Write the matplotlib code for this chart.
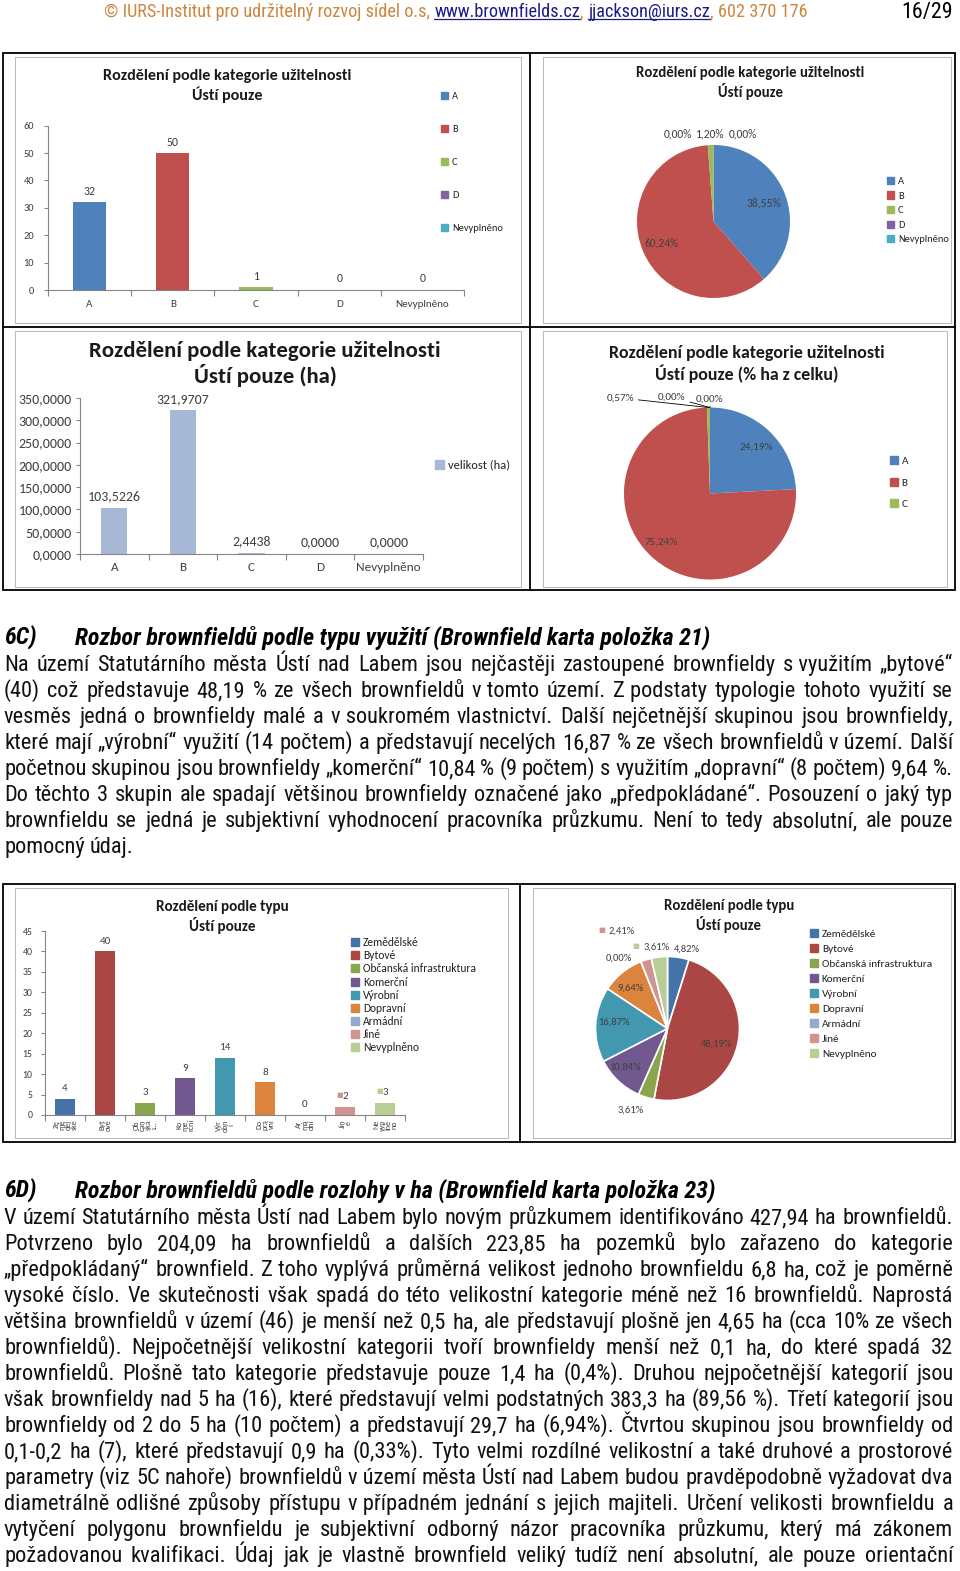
import matplotlib
matplotlib.use('Agg')
import matplotlib.pyplot as plt
from matplotlib import font_manager
from matplotlib.patches import Rectangle, Patch
from matplotlib.ticker import FuncFormatter
import numpy as np

W, H = 960, 1571

# ---------------- data ----------------
util_cats = ['A', 'B', 'C', 'D', 'Nevyplněno']
util_counts = [32, 50, 1, 0, 0]
util_ha = [103.5226, 321.9707, 2.4438, 0.0, 0.0]
util_colors = ['#4f81bd', '#c0504d', '#9bbb59', '#8064a2', '#4bacc6']

type_cats = ['Zemědělské', 'Bytové', 'Občanská infrastruktura', 'Komerční', 'Výrobní',
             'Dopravní', 'Armádní', 'Jiné', 'Nevyplněno']
type_ticks = ['Ze\nmě\nděl\nské', 'Byt\nové', 'Ob\nčan\nská\ni…', 'Ko\nme\nrční', 'Výr\nobn\ní',
              'Do\npra\nvní', 'Ar\nmá\ndní', 'Jin\né', 'Ne\nvyp\nlně\nno']
type_counts = [4, 40, 3, 9, 14, 8, 0, 2, 3]
type_colors = ['#4572a7', '#aa4643', '#89a54e', '#71588f', '#4198af',
               '#db843d', '#93a9cf', '#d19392', '#b9cd96']

header_parts = [('© IURS-Institut pro udržitelný rozvoj sídel o.s,', 'o', True),
                ('www.brownfields.cz', 'l', False), (',', 'o', True),
                ('jjackson@iurs.cz', 'l', False), (',', 'o', True),
                ('602 370 176', 'o', False)]
page_no = '16/29'

head_6c = ('6C)', 'Rozbor brownfieldů podle typu využití (Brownfield karta položka 21)')
text_6c = [
    'Na území Statutárního města Ústí nad Labem jsou nejčastěji zastoupené brownfieldy s\u00a0využitím „bytové“',
    '(40) což představuje 48,19 % ze všech brownfieldů v\u00a0tomto území. Z\u00a0podstaty typologie tohoto využití se',
    'vesměs jedná o brownfieldy malé a v\u00a0soukromém vlastnictví. Další nejčetnější skupinou jsou brownfieldy,',
    'které mají „výrobní“ využití (14 počtem) a představují necelých 16,87 % ze všech brownfieldů v\u00a0území. Další',
    'početnou skupinou jsou brownfieldy „komerční“ 10,84 % (9 počtem) s využitím „dopravní“ (8 počtem) 9,64 %.',
    'Do těchto 3 skupin ale spadají většinou brownfieldy označené jako „předpokládané“. Posouzení o jaký typ',
    'brownfieldu se jedná je subjektivní vyhodnocení pracovníka průzkumu. Není to tedy absolutní, ale pouze',
    'pomocný údaj.',
]
head_6d = ('6D)', 'Rozbor brownfieldů podle rozlohy v ha (Brownfield karta položka 23)')
text_6d = [
    'V území Statutárního města Ústí nad Labem bylo novým průzkumem identifikováno 427,94 ha brownfieldů.',
    'Potvrzeno bylo 204,09 ha brownfieldů a dalších 223,85 ha pozemků bylo zařazeno do kategorie',
    '„předpokládaný“ brownfield. Z\u00a0toho vyplývá průměrná velikost jednoho brownfieldu 6,8 ha, což je poměrně',
    'vysoké číslo. Ve skutečnosti však spadá do této velikostní kategorie méně než 16 brownfieldů. Naprostá',
    'většina brownfieldů v území (46) je menší než 0,5 ha, ale představují plošně jen 4,65 ha (cca 10% ze všech',
    'brownfieldů). Nejpočetnější velikostní kategorii tvoří brownfieldy menší než 0,1 ha, do které spadá 32',
    'brownfieldů. Plošně tato kategorie představuje pouze 1,4 ha (0,4%). Druhou nejpočetnější kategorií jsou',
    'však brownfieldy nad 5 ha (16), které představují velmi podstatných 383,3 ha (89,56 %). Třetí kategorií jsou',
    'brownfieldy od 2 do 5 ha (10 počtem) a představují 29,7 ha (6,94%). Čtvrtou skupinou jsou brownfieldy od',
    '0,1-0,2 ha (7), které představují 0,9 ha (0,33%). Tyto velmi rozdílné velikostní a také druhové a prostorové',
    'parametry (viz 5C nahoře) brownfieldů v\u00a0území města Ústí nad Labem budou pravděpodobně vyžadovat dva',
    'diametrálně odlišné způsoby přístupu v\u00a0případném jednání s jejich majiteli. Určení velikosti brownfieldu a',
    'vytyčení polygonu brownfieldu je subjektivní odborný názor pracovníka průzkumu, který má zákonem',
    'požadovanou kvalifikaci. Údaj jak je vlastně brownfield veliký tudíž není absolutní, ale pouze orientační',
]

# ---------------- fonts ----------------
names = {f.name for f in font_manager.fontManager.ttflist}
def pick(*cands):
    return next((n for n in cands if n in names), 'DejaVu Sans')
narrow = sorted(n for n in names if ('Narrow' in n or 'Condensed' in n) and 'Mono' not in n)
BODY = pick('Liberation Sans Narrow', 'Roboto Condensed', 'DejaVu Sans Condensed',
            *narrow, 'Liberation Sans')
CHART = pick('Carlito', 'Lato', 'Open Sans')
plt.rcParams['font.family'] = [CHART, 'DejaVu Sans']

ORANGE = '#cd853f'
LINK = '#1c1c85'
DARK = '#404040'
AXIS = '#868686'

fig = plt.figure(figsize=(W / 100, H / 100), dpi=100)
fig.patch.set_facecolor('white')
bg = fig.add_axes([0, 0, 1, 1])
bg.set_xlim(0, W)
bg.set_ylim(H, 0)
bg.axis('off')
R = fig.canvas.get_renderer()


def width(t):
    return t.get_window_extent(R).width


def fit(s, target, **kw):
    t = bg.text(0, 0, s, fontsize=10, **kw)
    w = width(t)
    t.remove()
    return 10 * target / w


def space_width(fs, family):
    t1 = bg.text(0, 0, 'a a', fontsize=fs, family=family)
    t2 = bg.text(0, 0, 'aa', fontsize=fs, family=family)
    w = width(t1) - width(t2)
    t1.remove()
    t2.remove()
    return w


def px_axes(x0, y0, x1, y1):
    return fig.add_axes([x0 / W, 1 - y1 / H, (x1 - x0) / W, (y1 - y0) / H])


# ---------------- page text ----------------
hs = fit(' '.join(p[0] for p in header_parts).replace(' ,', ','), 702, family=BODY)
space_h = space_width(hs, BODY)
x = 104
for s, c, gap in header_parts:
    t = bg.text(x, 17, s, fontsize=hs, family=BODY, color=ORANGE if c == 'o' else LINK,
                va='baseline')
    w = width(t)
    if c == 'l':
        bg.plot([x, x + w], [19, 19], color=LINK, lw=0.9)
    x += w + (space_h if gap else 0)
ps = fit(page_no, 51, family=BODY)
bg.text(953, 18, page_no, fontsize=ps, family=BODY, ha='right', va='baseline', color='black')

body_fs = fit(text_6c[4].replace('\u00a0', ' '), 949, family=BODY)
space_b = space_width(body_fs, BODY)


def put_line(line, y, justify=True, x0=4, x1=953):
    words = line.split(' ')
    ts = [bg.text(0, y, w, fontsize=body_fs, family=BODY, va='baseline', color='#111111')
          for w in words]
    ws = [width(t) for t in ts]
    gap = (x1 - x0 - sum(ws)) / (len(ts) - 1) if (justify and len(ts) > 1) else space_b
    x = x0
    for t, w in zip(ts, ws):
        t.set_x(x)
        x += w + gap


head_fs = fit(head_6c[1], 635, family=BODY, fontweight='bold', style='italic')


def paragraph(head, lines, y_head, last_justified):
    bg.text(4, y_head + 8, head[0], fontsize=head_fs, family=BODY, fontweight='bold',
            style='italic', va='baseline')
    bg.text(75, y_head + 8, head[1], fontsize=head_fs, family=BODY, fontweight='bold',
            style='italic', va='baseline')
    for i, line in enumerate(lines):
        last = i == len(lines) - 1
        put_line(line, y_head + 26 * (i + 1) + 8, justify=(not last) or last_justified)


paragraph(head_6c, text_6c, 637, False)
paragraph(head_6d, text_6d, 1190, True)


# ---------------- table frames ----------------
def box(x0, y0, x1, y1, color, lw):
    bg.add_patch(Rectangle((x0, y0), x1 - x0, y1 - y0, fill=False, edgecolor=color, lw=lw))


box(3, 53, 955, 590, 'black', 1.3)
bg.plot([530, 530], [53, 590], color='black', lw=1.3)
bg.plot([3, 955], [327, 327], color='black', lw=1.3)
box(15, 57, 521, 323, '#b8b8b8', 0.7)
box(543, 57, 951, 323, '#b8b8b8', 0.7)
box(15, 331, 521, 587, '#b8b8b8', 0.7)
box(543, 331, 947, 587, '#b8b8b8', 0.7)
box(3, 884, 955, 1142, 'black', 1.3)
bg.plot([520, 520], [884, 1142], color='black', lw=1.3)
box(15, 888, 508, 1138, '#b8b8b8', 0.7)
box(533, 888, 951, 1138, '#b8b8b8', 0.7)


# ---------------- helpers for charts ----------------
def style_bar_axes(ax, n, ytick_fs, xtick_fs, xpad, ypad=3):
    for s in ['top', 'right']:
        ax.spines[s].set_visible(False)
    for s in ['left', 'bottom']:
        ax.spines[s].set_color(AXIS)
        ax.spines[s].set_linewidth(0.8)
    ax.set_xlim(-0.5, n - 0.5)
    ax.set_xticks(np.arange(-0.5, n, 1.0), minor=True)
    ax.tick_params(axis='x', which='major', length=0, pad=xpad, labelsize=xtick_fs,
                   labelcolor=DARK)
    ax.tick_params(axis='x', which='minor', length=4, color=AXIS, width=0.8)
    ax.tick_params(axis='y', length=3, color=AXIS, width=0.8, labelsize=ytick_fs,
                   labelcolor=DARK, pad=ypad)
    ax.patch.set_alpha(0)


def legend(handles, labels, x, y_first, pitch, fs):
    fs_px = fs * 100 / 72
    h = 1.2 * fs_px
    fig.legend(handles, labels, loc='upper left',
               bbox_to_anchor=(x / W, 1 - (y_first - h / 2) / H),
               bbox_transform=fig.transFigure, frameon=False, borderpad=0,
               borderaxespad=0, labelspacing=max(pitch - h, 0) / fs_px,
               handlelength=0.7, handleheight=0.7, handletextpad=0.35,
               prop=dict(family=CHART, size=fs), labelcolor='#222222')


def title(x, y, s, target_w):
    fs = fit(s.split('\n')[0], target_w, family=CHART, fontweight='bold')
    bg.text(x, y, s, ha='center', va='center', fontsize=fs, fontweight='bold',
            family=CHART, color='#1a1a1a', linespacing=1.2)


def pct(v, total):
    return f'{100 * v / total:.2f}%'.replace('.', ',')


def pie_chart(cx, cy, r, vals, colors, pos, fs, edge=None, keys=(), leaders=()):
    ax = px_axes(cx - r, cy - r, cx + r, cy + r)
    wedges, _ = ax.pie(vals, colors=colors, startangle=90, counterclock=False,
                       radius=1, wedgeprops=dict(edgecolor=edge or 'none',
                                                 linewidth=1.2 if edge else 0))
    ax.set_xlim(-1, 1)
    ax.set_ylim(-1, 1)
    ax.axis('off')
    total = sum(vals)
    for i, (w, v, (f, dx, dy)) in enumerate(zip(wedges, vals, pos)):
        a = np.deg2rad((w.theta1 + w.theta2) / 2)
        lx = f * np.cos(a) + dx / r
        ly = f * np.sin(a) - dy / r
        if i in leaders:
            ax.annotate(pct(v, total), xy=(np.cos(a), np.sin(a)), xytext=(lx, ly),
                        ha='center', va='center', fontsize=fs, color=DARK,
                        annotation_clip=False,
                        arrowprops=dict(arrowstyle='-', color='black', lw=0.6,
                                        shrinkA=1, shrinkB=0))
        else:
            ax.text(lx, ly, pct(v, total), ha='center', va='center', fontsize=fs,
                    color=DARK, clip_on=False)
        if i in keys:
            ax.text(lx - 20 / r, ly + 1 / r, '■', ha='center', va='center',
                    fontsize=fs * 0.7, color=colors[i], family='DejaVu Sans')
    return ax, wedges


# ---------------- chart 1: counts by utility ----------------
ax1 = px_axes(48, 125.7, 464, 290)
b1 = ax1.bar(range(5), util_counts, width=0.4, color=util_colors)
ax1.set_ylim(0, 60)
ax1.set_yticks(range(0, 61, 10))
ax1.set_xticks(range(5), util_cats)
style_bar_axes(ax1, 5, 7.5, 8, 7, ypad=7)
ax1.bar_label(b1, labels=[str(v) for v in util_counts], padding=4, fontsize=8.5, color=DARK)
title(227, 86, 'Rozdělení podle kategorie užitelnosti\nÚstí pouze', 249)
legend([Patch(color=c) for c in util_colors], util_cats, 441, 98, 36.2, 7.5)

# ---------------- chart 2: pie counts ----------------
pie_chart(713.5, 221.5, 76.5, util_counts, util_colors,
          [(0.70, 0, 0), (0.74, 0, 0), (1.15, 0, 0), (1.15, -36, 0), (1.15, 29, 0)], 8.3)
title(750, 83, 'Rozdělení podle kategorie užitelnosti\nÚstí pouze', 226)
legend([Patch(color=c) for c in util_colors], util_cats, 887, 183, 17.8, 7.5)

# ---------------- chart 3: hectares by utility ----------------
ax3 = px_axes(80, 398, 423, 554)
b3 = ax3.bar(range(5), util_ha, width=0.38, color='#a7b8d7')
ax3.set_ylim(0, 350)
ax3.set_yticks(range(0, 351, 50))
ax3.yaxis.set_major_formatter(FuncFormatter(lambda v, _: f'{v:.4f}'.replace('.', ',')))
ax3.set_xticks(range(5), util_cats)
style_bar_axes(ax3, 5, 10, 9.5, 6)
ax3.bar_label(b3, labels=[f'{v:.4f}'.replace('.', ',') for v in util_ha], padding=4,
              fontsize=10, color=DARK)
title(265, 364, 'Rozdělení podle kategorie užitelnosti\nÚstí pouze (ha)', 350)
legend([Patch(color='#a7b8d7')], ['velikost (ha)'], 435, 467, 20, 9)

# ---------------- chart 4: pie hectares ----------------
pie_chart(710, 493.5, 86, util_ha, util_colors,
          [(0.74, 2, 0), (0.77, -4, 0), (1.1, -88, -1), (1.12, -38, 0), (1.1, 0, 0)],
          8, leaders=(2, 3, 4))
title(747, 364, 'Rozdělení podle kategorie užitelnosti\nÚstí pouze (% ha z celku)', 276)
legend([Patch(color=c) for c in util_colors[:3]], util_cats[:3], 890, 463, 25, 8)

# ---------------- chart 5: counts by type ----------------
ax5 = px_axes(45, 931, 405, 1115)
b5 = ax5.bar(range(9), type_counts, width=0.5, color=type_colors)
ax5.set_ylim(0, 45)
ax5.set_yticks(range(0, 46, 5))
ax5.set_xticks(range(9), type_ticks, rotation=90, linespacing=0.85, ha='center', va='top')
style_bar_axes(ax5, 9, 7, 5.8, 3, ypad=6)
ax5.bar_label(b5, labels=[str(v) for v in type_counts], padding=4, fontsize=8, color=DARK)
for i in (7, 8):
    ax5.annotate('■', xy=(i, type_counts[i]), xytext=(-4, 6), textcoords='offset points',
                 ha='center', va='bottom', fontsize=5, color=type_colors[i],
                 family='DejaVu Sans')
title(222, 917, 'Rozdělení podle typu\nÚstí pouze', 133)
legend([Patch(color=c) for c in type_colors], type_cats, 351, 944, 16, 8.3)

# ---------------- chart 6: pie by type ----------------
pie_chart(667.5, 1028.5, 72, type_counts, type_colors,
          [(1.12, 7, 0), (0.70, 0, 3), (1.12, -13, 5), (0.79, -4, -3), (0.75, 0, -3),
           (0.75, -3, 2), (1.15, -18, 7), (1.15, -21, -18), (1.14, -2, 0)],
          7.6, edge='white', keys=(7, 8))
title(729, 916, 'Rozdělení podle typu\nÚstí pouze', 130)
legend([Patch(color=c) for c in type_colors], type_cats, 810, 936, 18.6, 8.1)

fig.savefig('out.png', dpi=100, facecolor='white')
